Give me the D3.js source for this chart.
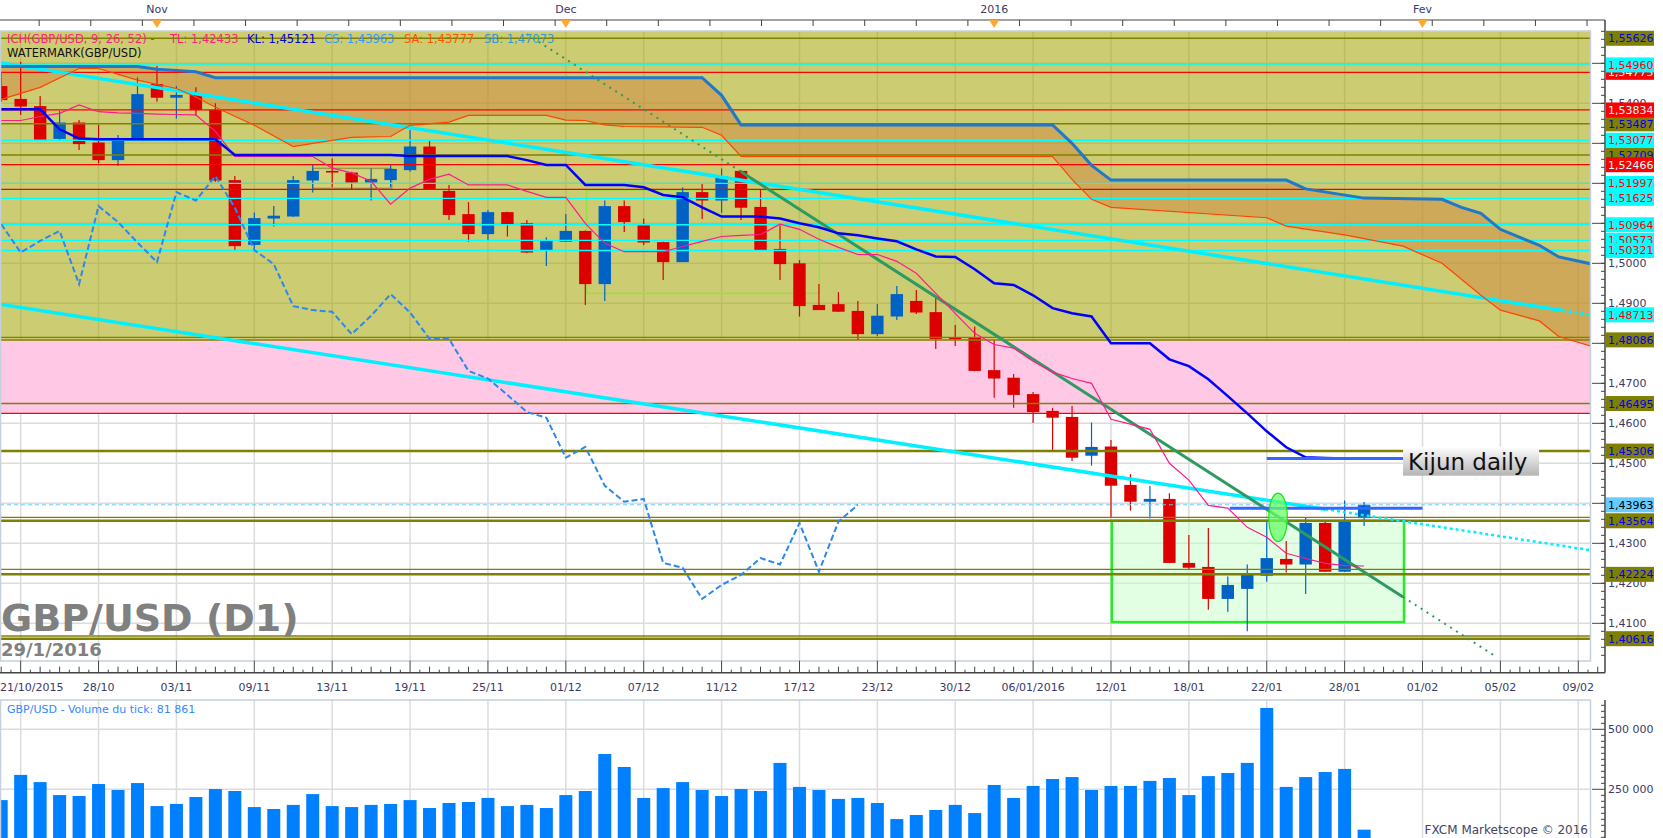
<!DOCTYPE html>
<meta charset="utf-8">
<script src="https://d3js.org/d3.v7.min.js"></script>
<style>
  body { margin: 0; background: #fff; }
  text { font-family: "DejaVu Sans", sans-serif; }
</style>
<div id="chart"></div>
<script>
  const width = 1663, height = 838;

  // daily candles, 21/10/2015 .. 29/01/2016 (index 0..70)
  const open  = [1.5443,1.5411,1.5393,1.5311,1.5352,1.5302,1.5258,1.5308,1.5448,1.5414,
                 1.5421,1.5383,1.5208,1.5046,1.5112,1.5117,1.5207,1.5231,1.5227,1.5202,
                 1.5208,1.5233,1.5292,1.5181,1.5123,1.5073,1.5128,1.5100,1.5033,1.5054,
                 1.5081,1.4948,1.5143,1.5098,1.5053,1.5003,1.5178,1.5157,1.5231,1.5141,
                 1.5036,1.5000,1.4896,1.4898,1.4881,1.4823,1.4867,1.4906,1.4878,1.4814,
                 1.4814,1.4733,1.4714,1.4673,1.4631,1.4616,1.4519,1.4542,1.4446,1.4404,
                 1.4411,1.4251,1.4241,1.4161,1.4186,1.4219,1.4261,1.4247,1.4351,1.4229,
                 1.4363];
  const high  = [1.5477,1.5504,1.5418,1.5381,1.5358,1.5346,1.5321,1.5465,1.5493,1.5443,
                 1.5440,1.5400,1.5218,1.5127,1.5143,1.5218,1.5246,1.5262,1.5229,1.5237,
                 1.5246,1.5333,1.5306,1.5196,1.5153,1.5133,1.5129,1.5108,1.5065,1.5123,
                 1.5082,1.5157,1.5157,1.5112,1.5054,1.5190,1.5198,1.5237,1.5232,1.5183,
                 1.5096,1.5008,1.4948,1.4928,1.4906,1.4898,1.4943,1.4933,1.4917,1.4846,
                 1.4842,1.4808,1.4723,1.4678,1.4638,1.4643,1.4602,1.4558,1.4473,1.4443,
                 1.4425,1.4321,1.4338,1.4217,1.4247,1.4357,1.4306,1.4365,1.4357,1.4407,
                 1.4403];
  const low   = [1.5404,1.5371,1.5306,1.5307,1.5283,1.5250,1.5243,1.5306,1.5404,1.5362,
                 1.5368,1.5204,1.5033,1.5033,1.5092,1.5116,1.5177,1.5190,1.5185,1.5157,
                 1.5190,1.5229,1.5184,1.5108,1.5054,1.5058,1.5067,1.5026,1.4993,1.5053,
                 1.4896,1.4906,1.5078,1.5046,1.4958,1.5003,1.5111,1.5126,1.5108,1.5033,
                 1.4958,1.4867,1.4883,1.4878,1.4808,1.4818,1.4858,1.4873,1.4786,1.4793,
                 1.4730,1.4664,1.4639,1.4601,1.4533,1.4506,1.4494,1.4363,1.4382,1.4362,
                 1.4250,1.4236,1.4134,1.4129,1.4080,1.4204,1.4227,1.4173,1.4228,1.4228,
                 1.4343];
  const close = [1.5408,1.5392,1.5308,1.5352,1.5298,1.5258,1.5307,1.5423,1.5414,1.5421,
                 1.5383,1.5207,1.5043,1.5113,1.5119,1.5208,1.5231,1.5227,1.5202,1.5211,
                 1.5236,1.5292,1.5185,1.5121,1.5073,1.5128,1.5098,1.5027,1.5056,1.5081,
                 1.4948,1.5143,1.5103,1.5052,1.5003,1.5178,1.5157,1.5218,1.5139,1.5033,
                 1.4998,1.4893,1.4883,1.4879,1.4823,1.4869,1.4923,1.4877,1.4811,1.4811,
                 1.4731,1.4712,1.4671,1.4628,1.4614,1.4514,1.4541,1.4444,1.4404,1.4411,
                 1.4251,1.4239,1.4161,1.4196,1.4221,1.4263,1.4247,1.4351,1.4229,1.4354,
                 1.43963];
  const volume = [205000,310000,280000,226000,222000,272000,247000,276000,180000,189000,
                  218000,251000,243000,176000,168000,185000,230000,180000,176000,185000,
                  189000,205000,172000,193000,197000,214000,180000,185000,172000,226000,
                  243000,397000,343000,214000,255000,280000,247000,222000,251000,243000,
                  360000,260000,247000,210000,214000,193000,126000,143000,164000,185000,
                  151000,268000,214000,264000,293000,301000,247000,264000,264000,285000,
                  297000,226000,305000,318000,360000,589000,260000,301000,322000,335000,
                  81861];

  // Ichimoku (9, 26, 52)
  const tenkan = [1.5357,1.5357,1.5367,1.5375,1.5396,1.5379,1.5376,1.5375,1.5373,1.5372,
                  1.5371,1.5330,1.5267,1.5267,1.5267,1.5267,1.5267,1.5238,1.5226,1.5205,
                  1.5148,1.5188,1.5210,1.5223,1.5196,1.5196,1.5196,1.5180,1.5165,1.5165,
                  1.5100,1.5050,1.5029,1.5029,1.5029,1.5042,1.5055,1.5067,1.5070,1.5072,
                  1.5098,1.5085,1.5060,1.5040,1.5022,1.5022,1.5005,1.4975,1.4925,1.4875,
                  1.4825,1.4797,1.4788,1.4755,1.4728,1.4712,1.4700,1.4610,1.4598,1.4585,
                  1.4500,1.4458,1.4395,1.4388,1.4340,1.4315,1.4275,1.4262,1.4250,1.4244,
                  1.42433];
  const kijun  = [1.5385,1.5385,1.5385,1.5335,1.5312,1.5310,1.5310,1.5310,1.5310,1.5310,
                  1.5310,1.5310,1.5271,1.5271,1.5271,1.5271,1.5271,1.5271,1.5271,1.5271,
                  1.5271,1.5268,1.5268,1.5268,1.5268,1.5268,1.5268,1.5258,1.5246,1.5246,
                  1.5196,1.5196,1.5196,1.5190,1.5171,1.5165,1.5140,1.5117,1.5117,1.5117,
                  1.5112,1.5100,1.5090,1.5075,1.5070,1.5062,1.5055,1.5035,1.5017,1.5016,
                  1.4985,1.4950,1.4946,1.4920,1.4888,1.4875,1.4867,1.4800,1.4800,1.4800,
                  1.4760,1.4743,1.4710,1.4668,1.4625,1.4580,1.4540,1.4515,1.4513,1.4512,
                  1.45121];
  const senkouA = [[0,1.5410],[2,1.5440],[4,1.5487],[5,1.5487],[7,1.5458],[9,1.5437],[10,1.5416],
                   [11,1.5390],[13,1.5345],[15,1.5292],[16,1.5300],[18,1.5315],[20,1.5317],
                   [21,1.5345],[23,1.5353],[24,1.5370],[28,1.5370],[29,1.5358],[30,1.5357],
                   [31,1.5346],[32,1.5342],[36,1.5340],[37,1.5320],[38,1.5267],[54,1.5267],
                   [55,1.5210],[56,1.5160],[57,1.5140],[65,1.5114],[66,1.5093],[69,1.5071],
                   [72,1.5043],[74,1.5000],[76,1.4920],[77,1.4883],[79,1.4856],[80,1.4817],
                   [82,1.4788]];
  const senkouB = [[0,1.5492],[7,1.5492],[8,1.5485],[10,1.5479],[11,1.5464],[36,1.5464],
                   [37,1.5420],[38,1.5346],[54,1.5346],[55,1.5300],[56,1.5245],[57,1.5208],
                   [66,1.5208],[67,1.5186],[70,1.5163],[74,1.5160],[75,1.5140],[76,1.5125],
                   [77,1.5085],[78,1.5065],[79,1.5045],[80,1.5016],[82,1.4995]];
  const chikouShift = 26;

  // axis labels
  const dateIdx = [0,5,9,13,17,21,25,29,33,37,41,45,49,53,57,61,65,69,73,77,81];
  const dateLabels = ["21/10/2015","28/10","03/11","09/11","13/11","19/11","25/11","01/12",
                      "07/12","11/12","17/12","23/12","30/12","06/01/2016","12/01","18/01",
                      "22/01","28/01","01/02","05/02","09/02"];
  const monthIdx = [8, 29, 51, 73];
  const monthLabels = ["Nov", "Dec", "2016", "Fev"];
  const priceTicks = [1.41,1.42,1.43,1.44,1.45,1.46,1.47,1.48,1.49,1.50,1.51,1.52,1.53,1.54,1.55];
  const volTicks = [250000, 500000];

  // drawn levels
  const oliveLevels = [1.55626,1.53487,1.52709,1.48086,1.46495,1.45306,1.43564,1.42224,1.40616];
  const oliveThick  = [1.45306,1.43564,1.42224,1.40616];
  const oliveExtra  = [1.48150,1.43650,1.42350,1.40683];
  const redLevels   = [1.54775,1.53834,1.52466];
  const redExtra    = [1.51850,1.46250];
  const cyanLevels  = [1.54960,1.53077,1.51997,1.51625,1.50964,1.50573,1.50321];
  const lastPrice = 1.43963;
  const bandOlive = [1.48086, 1.5700];
  const bandPink  = [1.46250, 1.48086];

  // trend lines, end points read as [bar index, price]
  const trendUpper = [[0, 1.5501], [81.6, 1.48713]];
  const trendLower = [[0, 1.4897], [81.6, 1.4283]];
  const trendGreen = [[38, 1.5229], [72, 1.4166]];

  // boxes and marks
  const greenBox = {i0: 57.04, i1: 72.05, p0: 1.43564, p1: 1.41030};
  const decBox   = {i0: 30.07, i1: 42.02, p0: 1.51833, p1: 1.49250};
  const smallBox = {i0: 16.0,  i1: 20.06, p0: 1.52374, p1: 1.51874};
  const ellipse  = {i: 65.58, p: 1.43650, rp: 0.00605};
  const kijunDaily = {i0: 65, i1: 72, p: 1.45121};
  const kijunLow   = {i0: 63.1, i1: 73, p: 1.43875};

  // layout
  const pLeft = 0, pRight = 1590, pTop = 31, pBottom = 661;
  const vTop = 700, vBottom = 838;
  const axisX = 1605, xAxisY = 672.7, topAxisY = 20;

  const x = d3.scaleLinear().domain([0, 70]).range([1.2, 1.2 + 70 * 19.47]);
  const y = d3.scaleLinear().domain([1.40058, 1.55808]).range([pBottom, pTop]);
  const yv = d3.scaleLinear().domain([0, 500000]).range([849.3, 729.3]);
  const fmt5 = p => p.toFixed(5).replace(".", ",");
  const fmt4 = p => p.toFixed(4).replace(".", ",");
  const fmtV = v => d3.format(",")(v).replace(/,/g, " ");

  const svg = d3.select("#chart").append("svg")
      .attr("width", width).attr("height", height);

  const defs = svg.append("defs");
  defs.append("clipPath").attr("id", "pc").append("rect")
      .attr("x", pLeft).attr("y", pTop).attr("width", pRight - pLeft).attr("height", pBottom - pTop);
  defs.append("clipPath").attr("id", "vc").append("rect")
      .attr("x", pLeft).attr("y", vTop).attr("width", pRight - pLeft).attr("height", vBottom - vTop);
  const grad = defs.append("linearGradient").attr("id", "kbox")
      .attr("x1", 0).attr("y1", 0).attr("x2", 0).attr("y2", 1);
  grad.append("stop").attr("offset", "0%").attr("stop-color", "#ffffff");
  grad.append("stop").attr("offset", "100%").attr("stop-color", "#b4b4b4");

  const gridIdx = d3.range(1, 82, 4);

  // ---------- price panel ----------
  const g = svg.append("g").attr("clip-path", "url(#pc)");

  g.selectAll(".vgrid").data(gridIdx).join("line")
      .attr("x1", d => x(d)).attr("x2", d => x(d))
      .attr("y1", pTop).attr("y2", pBottom)
      .attr("stroke", "#dcdcdc").attr("stroke-width", 1.5);
  g.selectAll(".hgrid").data(priceTicks).join("line")
      .attr("x1", pLeft).attr("x2", pRight)
      .attr("y1", d => y(d)).attr("y2", d => y(d))
      .attr("stroke", "#dcdcdc").attr("stroke-width", 1.5);

  // zones
  g.append("rect").attr("x", pLeft).attr("width", pRight - pLeft)
      .attr("y", y(bandOlive[1])).attr("height", y(bandOlive[0]) - y(bandOlive[1]))
      .attr("fill", "#a3a300").attr("opacity", 0.55);
  g.append("rect").attr("x", pLeft).attr("width", pRight - pLeft)
      .attr("y", y(bandPink[1])).attr("height", y(bandPink[0]) - y(bandPink[1]))
      .attr("fill", "#ffc8e4");

  // cloud between senkou spans
  const cloud = senkouA.concat(senkouB.slice().reverse());
  g.append("path")
      .attr("d", d3.line().x(d => x(d[0])).y(d => y(d[1]))(cloud) + "Z")
      .attr("fill", "#cf8541").attr("opacity", 0.5);

  // boxes
  g.append("rect")
      .attr("x", x(greenBox.i0)).attr("y", y(greenBox.p0))
      .attr("width", x(greenBox.i1) - x(greenBox.i0)).attr("height", y(greenBox.p1) - y(greenBox.p0))
      .attr("fill", "#c8ffc8").attr("fill-opacity", 0.5)
      .attr("stroke", "#22ee22").attr("stroke-width", 2.5);
  g.append("rect")
      .attr("x", x(decBox.i0)).attr("y", y(decBox.p0))
      .attr("width", x(decBox.i1) - x(decBox.i0)).attr("height", y(decBox.p1) - y(decBox.p0))
      .attr("fill", "none").attr("stroke", "#99dd44").attr("stroke-width", 1.5);
  g.append("rect")
      .attr("x", x(smallBox.i0)).attr("y", y(smallBox.p0))
      .attr("width", x(smallBox.i1) - x(smallBox.i0)).attr("height", y(smallBox.p1) - y(smallBox.p0))
      .attr("fill", "#e0e090").attr("fill-opacity", 0.3)
      .attr("stroke", "#9a9a50").attr("stroke-width", 1.5);

  // candles
  const bars = d3.range(open.length);
  g.selectAll(".wick").data(bars).join("line")
      .attr("x1", i => x(i)).attr("x2", i => x(i))
      .attr("y1", i => y(high[i])).attr("y2", i => y(low[i]))
      .attr("stroke", i => close[i] >= open[i] ? "#0062c4" : "#dd0000")
      .attr("stroke-width", 1.2);
  g.selectAll(".body").data(bars).join("rect")
      .attr("x", i => x(i) - 6.2).attr("width", 12.4)
      .attr("y", i => y(Math.max(open[i], close[i])))
      .attr("height", i => Math.max(1.5, Math.abs(y(open[i]) - y(close[i]))))
      .attr("fill", i => close[i] >= open[i] ? "#0062c4" : "#dd0000");

  // horizontal levels
  function hline(p, color, w, dash) {
    g.append("line").attr("x1", pLeft).attr("x2", pRight)
        .attr("y1", y(p)).attr("y2", y(p))
        .attr("stroke", color).attr("stroke-width", w)
        .attr("stroke-dasharray", dash || null);
  }
  oliveLevels.forEach(p => hline(p, "#808000", oliveThick.includes(p) ? 2.5 : 1.5));
  oliveExtra.forEach(p => hline(p, "#808000", 1.3));
  redLevels.concat(redExtra).forEach(p => hline(p, "#ff0000", 1.3));
  cyanLevels.forEach(p => hline(p, "#00ffff", 1.3));
  hline(lastPrice, "#66ccff", 1, "4,3");

  // trend lines
  function along(t, i) {
    const k = (t[1][1] - t[0][1]) / (t[1][0] - t[0][0]);
    return t[0][1] + k * (i - t[0][0]);
  }
  function seg(t, i0, i1, color, w, dash) {
    g.append("line")
        .attr("x1", x(i0)).attr("y1", y(along(t, i0)))
        .attr("x2", x(i1)).attr("y2", y(along(t, i1)))
        .attr("stroke", color).attr("stroke-width", w)
        .attr("stroke-dasharray", dash || null);
  }
  seg(trendUpper, -0.5, 80.2, "#00f0ff", 3.5);
  seg(trendUpper, 80.2, 81.6, "#00f0ff", 3, "3,3");
  seg(trendLower, -0.5, 68, "#00f0ff", 3.5);
  seg(trendLower, 68, 81.6, "#00f0ff", 2.5, "3,3");
  seg(trendGreen, 26.7, 38, "#2e9a60", 2, "2,5");
  seg(trendGreen, 38, 72, "#2e9a60", 3);
  seg(trendGreen, 72, 76.8, "#2e9a60", 2, "2,5");

  // ichimoku lines
  const line = d3.line().x(d => x(d[0])).y(d => y(d[1]));
  g.append("path").attr("d", line(senkouA))
      .attr("fill", "none").attr("stroke", "#ff4500").attr("stroke-width", 1.2);
  g.append("path").attr("d", line(senkouB))
      .attr("fill", "none").attr("stroke", "#1f78c8").attr("stroke-width", 3);
  const chikou = d3.range(0, close.length - chikouShift).map(j => [j, close[j + chikouShift]]);
  g.append("path").attr("d", line(chikou))
      .attr("fill", "none").attr("stroke", "#2a88ee").attr("stroke-width", 2)
      .attr("stroke-dasharray", "6,3");
  g.append("path").attr("d", line(tenkan.map((v, i) => [i, v])))
      .attr("fill", "none").attr("stroke", "#ff1a8c").attr("stroke-width", 1.2);
  g.append("path").attr("d", line(kijun.map((v, i) => [i, v])))
      .attr("fill", "none").attr("stroke", "#0000ff").attr("stroke-width", 2.5);

  // marks
  [kijunLow, kijunDaily].forEach(k => {
    g.append("line").attr("x1", x(k.i0)).attr("x2", x(k.i1))
        .attr("y1", y(k.p)).attr("y2", y(k.p))
        .attr("stroke", "#3366ff").attr("stroke-width", 3);
  });
  g.append("ellipse")
      .attr("cx", x(ellipse.i)).attr("cy", y(ellipse.p))
      .attr("rx", 9.3).attr("ry", y(ellipse.p - ellipse.rp) - y(ellipse.p))
      .attr("fill", "#66ff66").attr("fill-opacity", 0.75)
      .attr("stroke", "#22dd22").attr("stroke-width", 1.2);

  const kb = g.append("g");
  kb.append("rect").attr("x", x(kijunDaily.i1)).attr("y", 446.7)
      .attr("width", 136).attr("height", 29).attr("fill", "url(#kbox)");
  kb.append("text").attr("x", x(kijunDaily.i1) + 5).attr("y", 469.5)
      .attr("font-size", 23).attr("fill", "#111").text("Kijun daily");

  // watermark
  g.append("text").attr("x", 1).attr("y", 630.7)
      .attr("font-size", 38).attr("font-weight", "bold").attr("fill", "#808080")
      .text("GBP/USD (D1)");
  g.append("text").attr("x", 1).attr("y", 656)
      .attr("font-size", 18).attr("font-weight", "bold").attr("fill", "#808080")
      .text("29/1/2016");

  // legend
  const leg = svg.append("text").attr("y", 43).attr("font-size", 11.5);
  [["ICH(GBP/USD, 9, 26, 52) -", 7, "#ff2277"], ["TL: " + fmt5(tenkan[70]), 170, "#ff2277"],
   ["KL: " + fmt5(kijun[70]), 247, "#0000dd"], ["CS: " + fmt5(close[70]), 324, "#3399ff"],
   ["SA: 1,43777", 404, "#ff5500"], ["SB: 1,47073", 484, "#3399cc"]]
    .forEach(([t, xx, c]) => leg.append("tspan").attr("x", xx).attr("fill", c).text(t));
  svg.append("text").attr("x", 7).attr("y", 57).attr("font-size", 11.5).attr("fill", "#111")
      .text("WATERMARK(GBP/USD)");

  // price panel frame
  svg.append("rect").attr("x", pLeft + 0.5).attr("y", pTop).attr("width", pRight - pLeft)
      .attr("height", pBottom - pTop).attr("fill", "none")
      .attr("stroke", "#c5d0dc").attr("stroke-width", 1.5);

  // ---------- volume panel ----------
  const gv = svg.append("g").attr("clip-path", "url(#vc)");
  gv.selectAll(".vg").data(gridIdx).join("line")
      .attr("x1", d => x(d)).attr("x2", d => x(d)).attr("y1", vTop).attr("y2", vBottom)
      .attr("stroke", "#dcdcdc").attr("stroke-width", 1.5);
  gv.selectAll(".hg").data(volTicks).join("line")
      .attr("x1", pLeft).attr("x2", pRight).attr("y1", d => yv(d)).attr("y2", d => yv(d))
      .attr("stroke", "#dcdcdc").attr("stroke-width", 1.5);
  gv.selectAll(".vb").data(bars).join("rect")
      .attr("x", i => x(i) - 6.5).attr("width", 13)
      .attr("y", i => yv(volume[i])).attr("height", i => yv(0) - yv(volume[i]))
      .attr("fill", "#0080ff");
  svg.append("text").attr("x", 7).attr("y", 713).attr("font-size", 11).attr("fill", "#3388ff")
      .text("GBP/USD - Volume du tick: " + fmtV(volume[70]));
  svg.append("text").attr("x", 1588).attr("y", 834).attr("text-anchor", "end")
      .attr("font-size", 12).attr("fill", "#444466").text("FXCM Marketscope \u00a9 2016");
  svg.append("rect").attr("x", pLeft + 0.5).attr("y", vTop).attr("width", pRight - pLeft)
      .attr("height", vBottom - vTop + 5).attr("fill", "none")
      .attr("stroke", "#c5d0dc").attr("stroke-width", 1.5);

  // ---------- axes ----------
  const axisColor = "#444";
  const labelColor = "#3a3a66";

  // top axis
  svg.append("line").attr("x1", 0).attr("x2", axisX).attr("y1", topAxisY).attr("y2", topAxisY)
      .attr("stroke", axisColor).attr("stroke-width", 1.2);
  svg.selectAll(".tt").data(d3.range(-6, 84, 2.65)).join("line")
      .attr("x1", d => x(d)).attr("x2", d => x(d)).attr("y1", topAxisY).attr("y2", topAxisY + 6)
      .attr("stroke", axisColor);
  svg.selectAll(".mk").data(monthIdx).join("path")
      .attr("d", d => `M${x(d) - 5},${topAxisY} L${x(d) + 5},${topAxisY} L${x(d)},${topAxisY + 8} Z`)
      .attr("fill", "#ffa733");
  svg.selectAll(".ml").data(monthIdx).join("text")
      .attr("x", d => x(d)).attr("y", 13).attr("text-anchor", "middle")
      .attr("font-size", 11).attr("fill", labelColor)
      .text((d, k) => monthLabels[k]);

  // bottom axis
  svg.append("line").attr("x1", 0).attr("x2", axisX).attr("y1", xAxisY).attr("y2", xAxisY)
      .attr("stroke", axisColor).attr("stroke-width", 1.5);
  const halfTicks = d3.range(0, 82.5, 0.5);
  svg.selectAll(".bt").data(halfTicks).join("line")
      .attr("x1", d => x(d)).attr("x2", d => x(d))
      .attr("y1", d => xAxisY - (gridIdx.includes(d) ? 12 : Number.isInteger(d) ? 6 : 3))
      .attr("y2", xAxisY)
      .attr("stroke", axisColor).attr("stroke-width", 1);
  svg.selectAll(".dl").data(dateIdx).join("text")
      .attr("x", d => d === 0 ? 0 : x(d)).attr("y", 691)
      .attr("text-anchor", d => d === 0 ? "start" : "middle")
      .attr("font-size", 11).attr("fill", labelColor)
      .text((d, k) => dateLabels[k]);

  // right price axis
  svg.append("line").attr("x1", axisX).attr("x2", axisX).attr("y1", topAxisY).attr("y2", xAxisY)
      .attr("stroke", axisColor).attr("stroke-width", 1.5);
  const minorTicks = d3.range(1400, 1559, 2).map(v => v / 1000);
  svg.selectAll(".pm").data(minorTicks.filter(p => y(p) > pTop && y(p) < pBottom)).join("line")
      .attr("x1", axisX - 4).attr("x2", axisX).attr("y1", d => y(d)).attr("y2", d => y(d))
      .attr("stroke", axisColor);
  svg.selectAll(".pM").data(priceTicks).join("line")
      .attr("x1", axisX - 13).attr("x2", axisX).attr("y1", d => y(d)).attr("y2", d => y(d))
      .attr("stroke", axisColor);

  // tick labels that a level box fully covers are left out
  const allLevels = oliveLevels.concat(redLevels, cyanLevels, [trendUpper[1][1], lastPrice]);
  const shownTicks = priceTicks.filter(t => d3.min(allLevels, p => Math.abs(y(p) - y(t))) > 5);
  svg.selectAll(".pl").data(shownTicks).join("text")
      .attr("x", axisX + 3).attr("y", d => y(d) + 4)
      .attr("font-size", 11).attr("fill", labelColor).text(d => fmt4(d));

  function levelLabel(p, bg, fg) {
    svg.append("rect").attr("x", axisX + 1).attr("y", y(p) - 7.5)
        .attr("width", 48).attr("height", 15).attr("fill", bg);
    svg.append("text").attr("x", axisX + 3).attr("y", y(p) + 4)
        .attr("font-size", 11).attr("fill", fg).text(fmt5(p));
  }
  oliveLevels.forEach(p => levelLabel(p, "#808000", "#0000ee"));
  redLevels.forEach(p => levelLabel(p, "#ff0000", "#ccffff"));
  cyanLevels.concat([trendUpper[1][1]]).forEach(p => levelLabel(p, "#00ffff", "#ff0000"));
  levelLabel(lastPrice, "#66ccff", "#000000");

  // volume axis
  svg.append("line").attr("x1", axisX).attr("x2", axisX).attr("y1", vTop).attr("y2", vBottom)
      .attr("stroke", axisColor).attr("stroke-width", 1.5);
  svg.selectAll(".vm").data(d3.range(25000, 650000, 25000).filter(v => yv(v) > vTop)).join("line")
      .attr("x1", d => axisX - (d % 250000 === 0 ? 13 : 4)).attr("x2", axisX)
      .attr("y1", d => yv(d)).attr("y2", d => yv(d)).attr("stroke", axisColor);
  svg.selectAll(".vl").data(volTicks).join("text")
      .attr("x", axisX + 3).attr("y", d => yv(d) + 4)
      .attr("font-size", 11).attr("fill", labelColor).text(d => fmtV(d));
</script>
